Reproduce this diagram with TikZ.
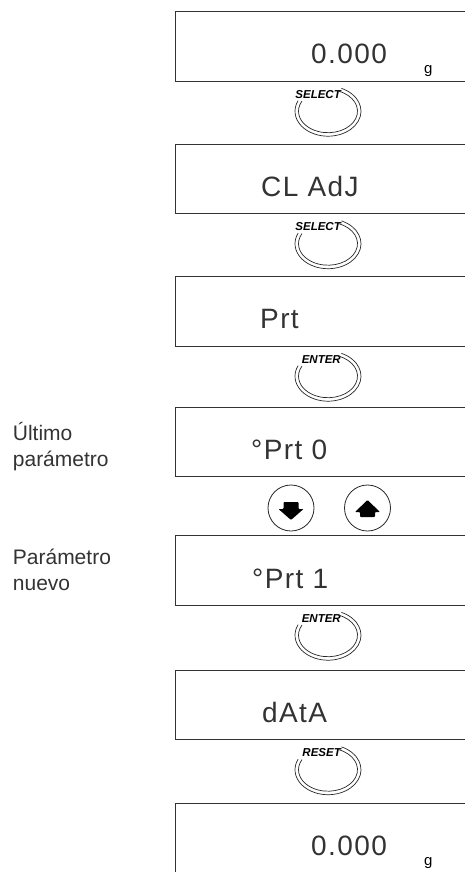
\documentclass[tikz,border=0pt]{standalone}
\usepackage{fontspec}
\setmainfont{Liberation Sans}
\newfontfamily\lcdfont[LetterSpace=5]{Liberation Sans}
\usepackage{tikz}
\usetikzlibrary{positioning,calc}
\tikzset{
  lcdbox/.style={draw=black!80,line width=1pt,minimum width=330pt,
    minimum height=69.5pt,outer sep=0pt,inner sep=0pt},
  lcdtxt/.style={font=\lcdfont\fontsize{28}{28}\selectfont,inner sep=0pt,
    text=black!80},
  unit/.style={font=\fontsize{15}{15}\selectfont,inner sep=0pt},
  keylbl/.style={font=\fontsize{11.5}{11.5}\selectfont\bfseries\itshape,
    inner sep=0pt},
  keyline/.style={draw=black!85,line width=0.7pt},
  arrkey/.style={circle,draw=black!85,line width=0.8pt,minimum size=46pt,
    inner sep=0pt},
  blk/.style={fill=black,rounded corners=0.8pt},
  side/.style={font=\fontsize{21}{26}\selectfont,align=left,inner sep=0pt,
    text=black!80},
}
% oval push key: name, centre, label
\newcommand{\keyoval}[3]{%
  \coordinate (#1) at #2;
  \node[keylbl,anchor=east] (#1l) at ([xshift=13pt,yshift=17pt]#1) {#3};
  \draw[keyline] ([shift={(66:33 and 25)}]#1)
    arc[start angle=66,end angle=-205,x radius=33,y radius=25];
  \draw[keyline] ([shift={(70:29.5 and 21.5)}]#1)
    arc[start angle=70,end angle=-208,x radius=29.5,y radius=21.5];
}
\begin{document}
\begin{tikzpicture}[x=1pt,y=1pt]
  \path[use as bounding box,clip] (0,0) rectangle (465,-872);
  % displays
  \node[lcdbox,anchor=north west] (d1) at (175,-11.7) {};
  \node[lcdbox,below=63pt of d1] (d2) {};
  \node[lcdbox,below=63pt of d2] (d3) {};
  \node[lcdbox,below=61pt of d3] (d4) {};
  \node[lcdbox,below=59pt of d4] (d5) {};
  \node[lcdbox,below=65pt of d5] (d6) {};
  \node[lcdbox,below=64pt of d6] (d7) {};
  % display readings
  \node[lcdtxt,anchor=base west] (v1) at ([xshift=136pt,yshift=-52pt]d1.north west) {0.000};
  \node[unit,anchor=base west] (g1) at ([xshift=249pt,yshift=-62pt]d1.north west) {g};
  \node[lcdtxt,anchor=base west] (v2) at ([xshift=86pt,yshift=-52pt]d2.north west) {CL AdJ};
  \node[lcdtxt,anchor=base west] (v3) at ([xshift=85pt,yshift=-52pt]d3.north west) {Prt};
  \node[lcdtxt,anchor=base west] (v4) at ([xshift=76pt,yshift=-52pt]d4.north west) {°Prt 0};
  \node[lcdtxt,anchor=base west] (v5) at ([xshift=77pt,yshift=-53pt]d5.north west) {°Prt 1};
  \node[lcdtxt,anchor=base west] (v6) at ([xshift=87pt,yshift=-52pt]d6.north west) {dAtA};
  \node[lcdtxt,anchor=base west] (v7) at ([xshift=136pt,yshift=-52pt]d7.north west) {0.000};
  \node[unit,anchor=base west] (g7) at ([xshift=249pt,yshift=-62pt]d7.north west) {g};
  % keys
  \keyoval{k1}{($(d1.south west)+(153,-30)$)}{SELECT}
  \keyoval{k2}{($(d2.south west)+(153,-30)$)}{SELECT}
  \keyoval{k3}{($(d3.south west)+(153,-30)$)}{ENTER}
  \keyoval{k4}{($(d5.south west)+(153,-30)$)}{ENTER}
  \keyoval{k5}{($(d6.south west)+(153,-30)$)}{RESET}
  \node[arrkey] (kdown) at ($(d4.south west)+(116,-31.3)$) {};
  \node[arrkey] (kup) at ($(d4.south west)+(192.5,-31.3)$) {};
  \fill[blk] ([shift={(-7.5,6)}]kdown.center) -- ++(15,0) -- ++(0,-7)
    -- ++(5,0) -- ++(-12.5,-11) -- ++(-12.5,11) -- ++(5,0) -- cycle;
  \fill[blk] ([shift={(-7.5,-9)}]kup.center) -- ++(15,0) -- ++(0,5)
    -- ++(5,0) -- ++(-12.5,12) -- ++(-12.5,-12) -- ++(5,0) -- cycle;
  % side notes
  \node[side,anchor=base west] (n1) at (12.7,-466) {Último\\parámetro};
  \node[side,anchor=base west] (n2) at (12.7,-590) {Parámetro\\nuevo};
\end{tikzpicture}
\end{document}
